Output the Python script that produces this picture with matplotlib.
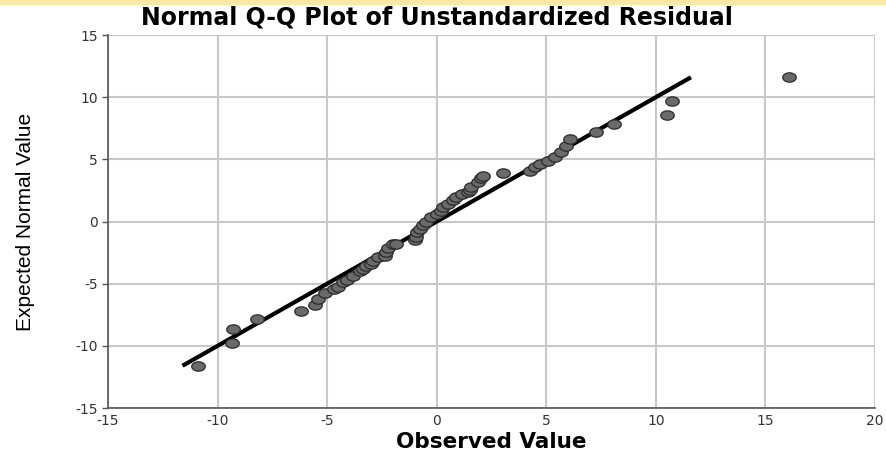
import matplotlib
matplotlib.use("Agg")
import matplotlib.pyplot as plt
from matplotlib.patches import Rectangle
import numpy as np

# observed residuals vs expected normal values
observed = [-10.91, -9.35, -9.30, -8.22, -6.19, -5.57, -5.42, -5.11, -4.70, -4.52,
            -4.28, -4.11, -3.82, -3.52, -3.38, -3.21, -2.98, -2.91, -2.68, -2.37,
            -2.30, -2.22, -2.00, -1.84, -1.00, -0.93, -0.89, -0.78, -0.63, -0.47,
            -0.24, -0.01, 0.21, 0.29, 0.52, 0.74, 0.90, 1.13, 1.43, 1.51,
            1.58, 1.89, 2.04, 2.11, 3.03, 4.25, 4.47, 4.70, 5.08, 5.39,
            5.69, 5.92, 6.07, 7.29, 8.10, 10.52, 10.74, 16.07]
expected = [-11.66, -9.75, -8.66, -7.88, -7.23, -6.70, -6.23, -5.79, -5.41, -5.23,
            -4.88, -4.74, -4.38, -4.00, -3.82, -3.58, -3.38, -3.14, -2.87, -2.81,
            -2.47, -2.17, -1.79, -1.79, -1.49, -1.26, -0.88, -0.59, -0.28, -0.06,
            0.35, 0.64, 0.88, 1.15, 1.42, 1.69, 1.95, 2.23, 2.36, 2.53,
            2.81, 3.16, 3.50, 3.66, 3.88, 4.10, 4.36, 4.64, 4.90, 5.17,
            5.57, 6.11, 6.65, 7.18, 7.85, 8.60, 9.67, 11.60]
ref_line = [-11.6, 11.6]
ticks = [-15, -10, -5, 0, 5, 10, 15, 20]
yticks = [-15, -10, -5, 0, 5, 10, 15]

plt.rcParams['font.family'] = ['DejaVu Sans']
plt.rcParams['axes.unicode_minus'] = False

# slightly flattened circle, like the stretched original
t = np.linspace(0, 2 * np.pi, 40)
oval = np.column_stack([1.45 * np.cos(t), np.sin(t)])

fig = plt.figure(figsize=(8.87, 4.57), dpi=100)
ax = fig.add_axes([0.1218, 0.1072, 0.8647, 0.8162])

ax.plot(ref_line, ref_line, color='black', lw=3, zorder=2, solid_capstyle='butt')
ax.scatter(observed, expected, s=95, marker=oval, c='#6a6a6a', edgecolors='#2a2a2a',
           linewidths=0.9, zorder=3)

ax.set_xlim(-15, 20)
ax.set_ylim(-15, 15)
ax.set_xticks(ticks)
ax.set_yticks(yticks)
ax.grid(True, color='#c8c8c8', lw=1.5)
ax.set_axisbelow(True)
for s in ['top', 'right']:
    ax.spines[s].set_visible(False)
for s in ['left', 'bottom']:
    ax.spines[s].set_color('#555555')
    ax.spines[s].set_linewidth(1.2)
ax.tick_params(axis='both', labelsize=10, colors='#555555', labelcolor='#333333',
               length=4, width=1)
ax.tick_params(axis='x', length=0, pad=4)

ax.set_xlabel('Observed Value', fontsize=15.5, fontweight='bold', labelpad=3)
ax.set_ylabel('Expected Normal Value', fontsize=15, labelpad=29,
              family=['Liberation Sans Narrow', 'DejaVu Sans Condensed', 'Liberation Sans'])
fig.text(0.493, 0.961, 'Normal Q-Q Plot of Unstandardized Residual',
         ha='center', va='center', fontsize=17, fontweight='bold')

fig.patches.append(Rectangle((0, 0.992), 1, 0.008, transform=fig.transFigure,
                             color='#fbe7a6', zorder=0))

fig.savefig('out.png', dpi=100)
